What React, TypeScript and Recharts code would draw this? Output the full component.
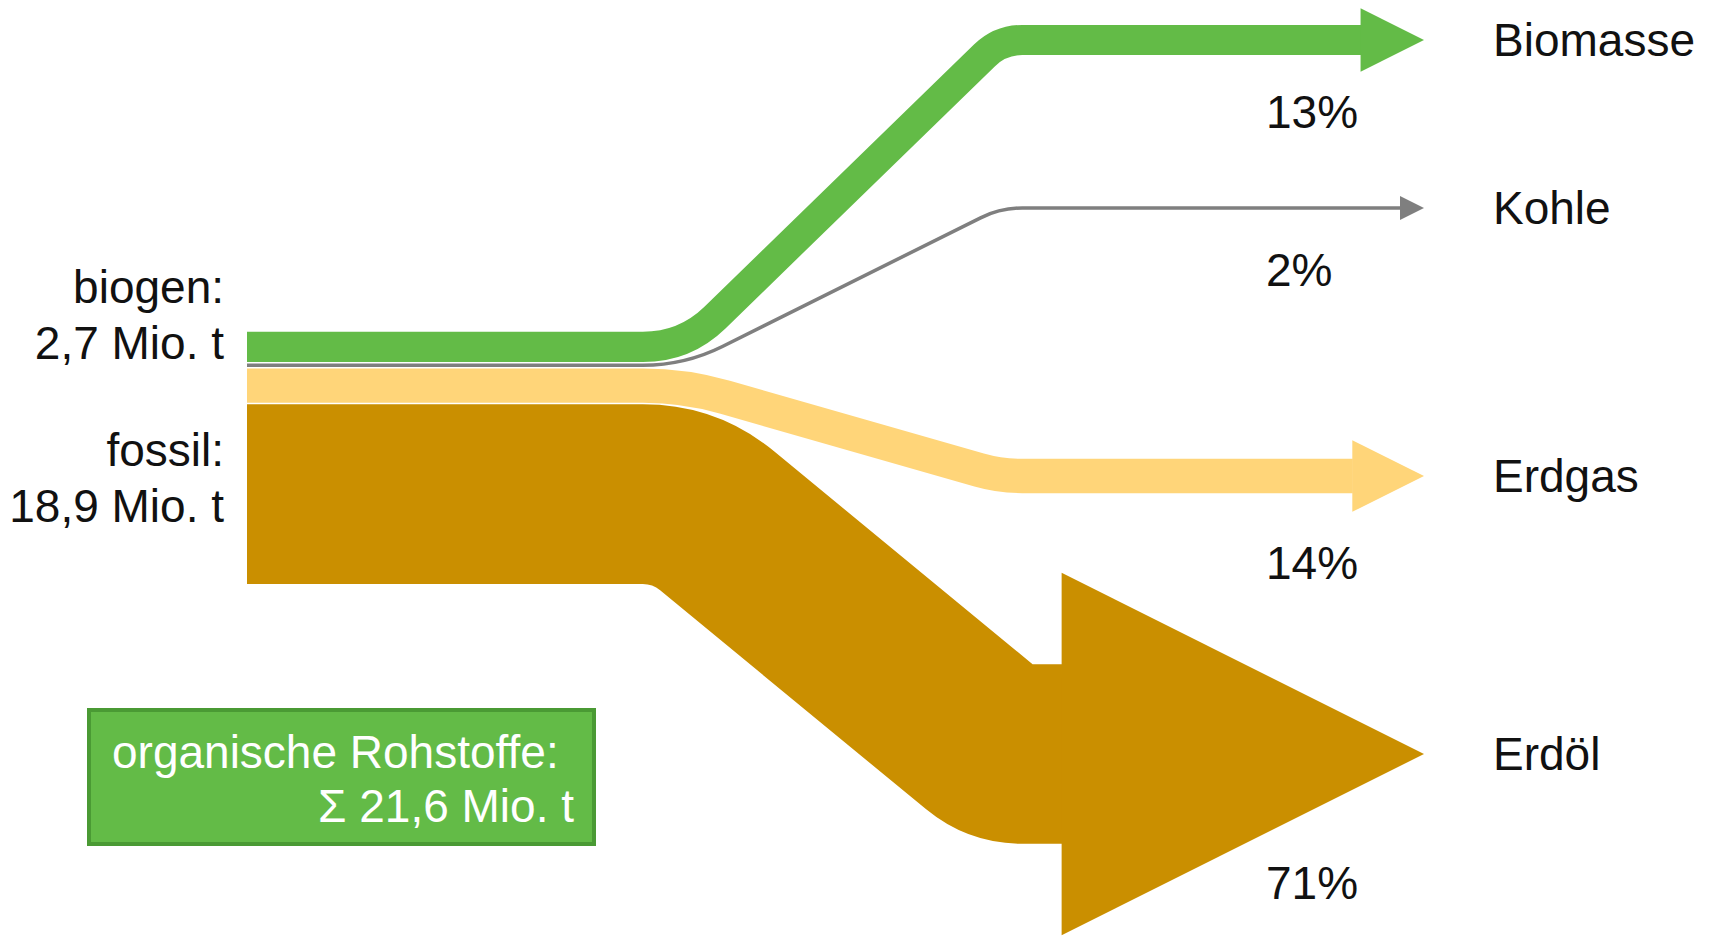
import React from 'react';
import { Sankey } from 'recharts';

// ---------- data ----------
const SOURCES = ['biogen', 'fossil'];
const SOURCE_VALUES = [2.7, 18.9]; // Mio. t
const TARGETS = ['Biomasse', 'Kohle', 'Erdgas', 'Erdöl'];
const TARGET_SHARES = [13, 2, 14, 71]; // %
const FLOW_SOURCE = [0, 1, 1, 1];
const FLOW_VALUES = [2.7, 0.43, 3.05, 15.42]; // Mio. t
const FLOW_COLORS = ['#63BB47', '#7F7F7F', '#FFD579', '#CA8F00'];
const BOX_TITLE = 'organische Rohstoffe:';

// ---------- layout / style ----------
const W = 1713;
const H = 939;
const PX_PER_UNIT = 11.75;
const SOURCE_TOP = 331;
const TARGET_CENTERS = [40, 208, 476, 754];
const BEND_START = 0.372;
const BEND_END = 0.64;
const CORNER_1 = 42;
const CORNER_2 = 22;
const MIN_HEAD = 12;
const BAND_GAP = 1.5;
const SOURCE_LABEL_DY = [-32, 4];
const SHARE_LABEL_DY = [72, 62, 87, 129];
const FONT = '"Liberation Sans", Arial, Helvetica, sans-serif';
const FS = 46;

const fmt = (v: number) => v.toFixed(1).replace('.', ',');

// ---------- build sankey data ----------
const nodes: any[] = [];
const links: any[] = [];
const totalUnits = H / PX_PER_UNIT;
const sourceSum = SOURCE_VALUES.reduce((a, b) => a + b, 0);
const leftPadTop = SOURCE_TOP / PX_PER_UNIT;
const leftPadBot = totalUnits - leftPadTop - sourceSum;

nodes.push({ name: 'padTop', role: 'pad' });
SOURCES.forEach((s, i) => nodes.push({ name: s, role: 'source', idx: i }));
nodes.push({ name: 'padBot', role: 'pad' });

const rightSpacers: { idx: number; value: number }[] = [];
const targetNodeIdx: number[] = [];
let prevBottom = 0;
TARGETS.forEach((t, i) => {
  const thick = FLOW_VALUES[i] * PX_PER_UNIT;
  const top = TARGET_CENTERS[i] - thick / 2;
  rightSpacers.push({ idx: nodes.length, value: (top - prevBottom) / PX_PER_UNIT });
  nodes.push({ name: 'gap' + i, role: 'pad' });
  targetNodeIdx[i] = nodes.length;
  nodes.push({ name: t, role: 'target', idx: i });
  prevBottom = top + thick;
});
rightSpacers.push({ idx: nodes.length, value: (H - prevBottom) / PX_PER_UNIT });
nodes.push({ name: 'gapEnd', role: 'pad' });

FLOW_VALUES.forEach((v, i) =>
  links.push({ source: 1 + FLOW_SOURCE[i], target: targetNodeIdx[i], value: v, flow: i })
);

const leftPads = [
  { idx: 0, rem: leftPadTop },
  { idx: 3, rem: leftPadBot },
];
let li = 0;
rightSpacers.forEach((sp) => {
  let need = sp.value;
  while (need > 1e-9 && li < leftPads.length) {
    const take = Math.min(need, leftPads[li].rem);
    if (take > 1e-9) links.push({ source: leftPads[li].idx, target: sp.idx, value: take });
    need -= take;
    leftPads[li].rem -= take;
    if (leftPads[li].rem <= 1e-9) li++;
  }
});

const sankeyData = { nodes, links };

// ---------- renderers ----------
const renderLink = (props: any) => {
  const { sourceX, targetX, sourceY, targetY, linkWidth, payload } = props;
  if (payload == null || payload.flow === undefined) return <g />;
  const i = payload.flow;
  const color = FLOW_COLORS[i];
  const w = linkWidth;
  const span = targetX - sourceX;
  const x1 = sourceX + BEND_START * span;
  const x2 = sourceX + BEND_END * span;
  const head = Math.max(w, MIN_HEAD);
  const base = targetX - 2 * head;
  const r1 = CORNER_1;
  const r2 = CORNER_2;
  const dx = x2 - x1;
  const dy = targetY - sourceY;
  const len = Math.hypot(dx, dy);
  const ux = dx / len;
  const uy = dy / len;
  const d =
    `M${sourceX},${sourceY} L${x1 - r1},${sourceY} ` +
    `Q${x1},${sourceY} ${x1 + r1 * ux},${sourceY + r1 * uy} ` +
    `L${x2 - r2 * ux},${targetY - r2 * uy} ` +
    `Q${x2},${targetY} ${x2 + r2},${targetY} L${base + 0.5},${targetY}`;
  return (
    <g>
      <path d={d} fill="none" stroke={color} strokeWidth={Math.max(w - BAND_GAP, 1.5)} />
      <path
        d={`M${base},${targetY - head} L${targetX},${targetY} L${base},${targetY + head} Z`}
        fill={color}
      />
    </g>
  );
};

const renderNode = (props: any) => {
  const { x, y, height, payload } = props;
  if (!payload) return <g />;
  if (payload.role === 'source') {
    const i = payload.idx;
    const cy = y + height / 2 + SOURCE_LABEL_DY[i];
    return (
      <g fontFamily={FONT} fontSize={FS} fill="#111">
        <text x={x - 22} y={cy - 28} textAnchor="end" dominantBaseline="central">
          {SOURCES[i] + ':'}
        </text>
        <text x={x - 22} y={cy + 28} textAnchor="end" dominantBaseline="central">
          {fmt(SOURCE_VALUES[i]) + ' Mio. t'}
        </text>
      </g>
    );
  }
  if (payload.role === 'target') {
    const i = payload.idx;
    const cy = y + height / 2;
    return (
      <g fontFamily={FONT} fontSize={FS} fill="#111">
        <text x={x + 69} y={cy} dominantBaseline="central">
          {TARGETS[i]}
        </text>
        <text x={x - 158} y={cy + SHARE_LABEL_DY[i]} dominantBaseline="central">
          {TARGET_SHARES[i] + '%'}
        </text>
      </g>
    );
  }
  return <g />;
};

export default function App() {
  return (
    <div
      style={{
        position: 'absolute',
        left: 0,
        top: 0,
        width: W,
        height: H,
        background: '#fff',
        overflow: 'hidden',
      }}
    >
      <Sankey
        width={W}
        height={H}
        data={sankeyData}
        nodeWidth={1}
        nodePadding={0}
        iterations={0}
        sort={false}
        margin={{ top: 0, bottom: 0, left: 246, right: 288 }}
        link={renderLink}
        node={renderNode}
      />
      <svg
        width={W}
        height={H}
        style={{ position: 'absolute', left: 0, top: 0, pointerEvents: 'none' }}
      >
        <rect x={89} y={710} width={505} height={134} fill="#63BB47" stroke="#4A9A34" strokeWidth={4} />
        <text x={112} y={752} fontFamily={FONT} fontSize={FS} fill="#fff" dominantBaseline="central">
          {BOX_TITLE}
        </text>
        <text
          x={574}
          y={806}
          fontFamily={FONT}
          fontSize={FS}
          fill="#fff"
          textAnchor="end"
          dominantBaseline="central"
        >
          {'Σ ' + fmt(sourceSum) + ' Mio. t'}
        </text>
      </svg>
    </div>
  );
}
